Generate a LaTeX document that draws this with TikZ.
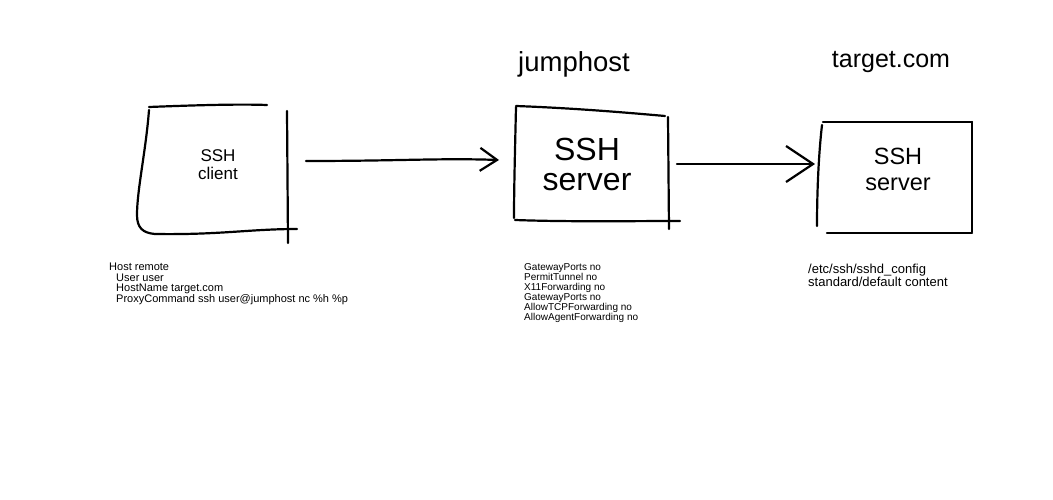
\documentclass[tikz,border=0pt]{standalone}
\usepackage{fontspec}
\setmainfont{Liberation Sans}
\usetikzlibrary{arrows.meta}
\begin{document}
\begin{tikzpicture}[x=1pt,y=-1pt,
  stroke/.style={line width=2.2pt,line cap=round,line join=round},
  linkA/.style={stroke,-{Straight Barb[length=17pt,width=23pt]}},
  linkB/.style={stroke,-{Straight Barb[length=27pt,width=36pt]}},
  title/.style={anchor=base,inner sep=0pt,font=\fontsize{27.5}{27.5}\selectfont},
  label/.style={align=center,inner sep=0pt,anchor=base},
  conf/.style={align=left,anchor=north west,inner sep=0pt}]
\useasboundingbox (0,0) rectangle (1053,500);

% client box, sketched stroke by stroke
\draw[stroke] (149,107) .. controls (200,105) and (240,104) .. (267,105);
\draw[stroke] (149,110) .. controls (146,150) and (137,190) .. (137,215)
  .. controls (137,228) and (143,233) .. (155,234)
  .. controls (220,235) and (250,229) .. (297,229);
\draw[stroke] (287,111) -- (288,243);

% jumphost box
\draw[stroke] (516,106) .. controls (570,108) and (620,112) .. (665,116);
\draw[stroke] (516,107) .. controls (515,150) and (514,190) .. (514,218);
\draw[stroke] (515,220) .. controls (570,222) and (630,221) .. (680,221);
\draw[stroke] (668,117) -- (669,229);

% target box
\draw[stroke] (823,122) -- (972,122);
\draw[stroke] (822,125) .. controls (818,160) and (817,200) .. (817,226);
\draw[stroke] (972,122) -- (972,232);
\draw[stroke] (827,233) -- (972,233);

% box captions (anchored at the baseline of the last line)
\node[label,font=\fontsize{17}{18}\selectfont] (client) at (218,180) {SSH\\client};
\node[label,font=\fontsize{32}{29}\selectfont] (jump) at (587,190) {SSH\\server};
\node[label,font=\fontsize{23.5}{25}\selectfont] (target) at (898,190) {SSH\\server};

% host titles
\node[title] (jumptitle) at (574,72) {jumphost};
\node[title,font=\fontsize{25}{25}\selectfont] (targettitle) at (891,68) {target.com};

% configuration notes
\node[conf,font=\fontsize{11}{10.5}\selectfont] (clientconf) at (109,263)
  {Host remote\\
   \hspace{7pt}User user\\
   \hspace{7pt}HostName target.com\\
   \hspace{7pt}ProxyCommand ssh user@jumphost nc \%h \%p};
\node[conf,font=\fontsize{10}{10}\selectfont] (jumpconf) at (524,263)
  {GatewayPorts no\\
   PermitTunnel no\\
   X11Forwarding no\\
   GatewayPorts no\\
   AllowTCPForwarding no\\
   AllowAgentForwarding no};
\node[conf,font=\fontsize{13}{12}\selectfont] (targetconf) at (808,264)
  {/etc/ssh/sshd\_config\\
   standard/default content};

% connections between hosts
\coordinate (c1) at (306,161);
\coordinate (j1) at (499,160);
\coordinate (j2) at (677,164);
\coordinate (t1) at (815,164);
\draw[linkA] (c1) .. controls (400,161) and (440,158) .. (j1);
\draw[linkB] (j2) -- (t1);
\end{tikzpicture}
\end{document}
